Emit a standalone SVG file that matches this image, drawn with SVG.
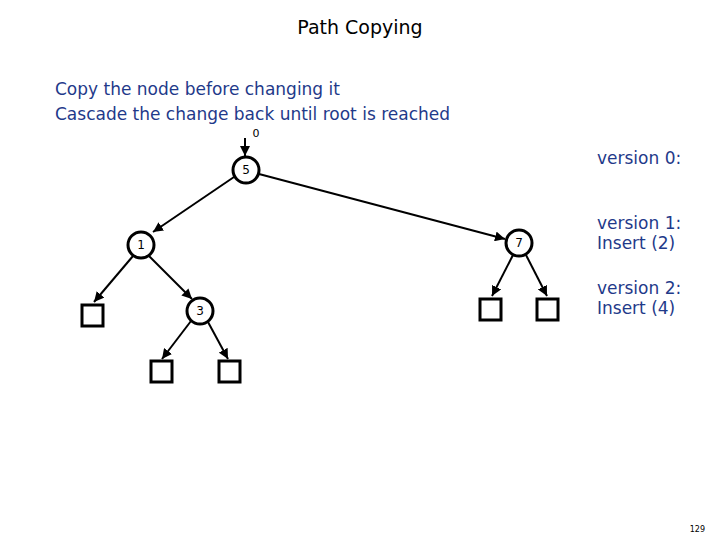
<svg xmlns="http://www.w3.org/2000/svg" width="720" height="540" viewBox="0 0 720 540">
<style>
text{font-family:"DejaVu Sans","Liberation Sans",sans-serif}
.n circle{fill:#fff;stroke:#000;stroke-width:3}
.n text{font-size:12px;text-anchor:middle}
.s{fill:#fff;stroke:#000;stroke-width:3}
.c line{stroke:#000;stroke-width:2;marker-end:url(#a)}
.b{fill:#1f3a8a;font-size:17px}
.v{fill:#1f3a8a;font-size:17px}
</style>
<defs><marker id="a" viewBox="0 0 10 10" refX="10" refY="5" markerWidth="5" markerHeight="5" orient="auto"><path d="M0,0L10,5L0,10z"/></marker></defs>
<rect width="720" height="540" fill="#fff"/>
<text x="360" y="34" text-anchor="middle" font-size="19">Path Copying</text>
<text class="b" x="55" y="95">Copy the node before changing it</text>
<text class="b" x="55" y="120">Cascade the change back until root is reached</text>
<text x="256" y="137" font-size="11" text-anchor="middle">0</text>
<text class="v" x="597" y="164">version 0:</text>
<text class="v" x="597" y="229">version 1:</text>
<text class="v" x="597" y="249">Insert (2)</text>
<text class="v" x="597" y="294">version 2:</text>
<text class="v" x="597" y="314">Insert (4)</text>
<text x="705" y="532" font-size="8" text-anchor="end">129</text>
<g class="c">
<line x1="245" y1="138" x2="245" y2="156"/>
<line x1="234" y1="177" x2="153" y2="232"/>
<line x1="259" y1="174" x2="505" y2="239"/>
<line x1="133" y1="256" x2="94" y2="302"/>
<line x1="149" y1="256" x2="192" y2="299"/>
<line x1="191" y1="321" x2="162" y2="359"/>
<line x1="208" y1="322" x2="228" y2="359"/>
<line x1="513" y1="255" x2="492" y2="296"/>
<line x1="526" y1="255" x2="547" y2="296"/>
</g>
<g id="n5" class="n"><circle cx="246" cy="170" r="13"/><text x="246" y="174">5</text></g>
<g id="n1" class="n"><circle cx="141" cy="245" r="13"/><text x="141" y="249">1</text></g>
<g id="n3" class="n"><circle cx="200" cy="311" r="13"/><text x="200" y="315">3</text></g>
<g id="n7" class="n"><circle cx="519" cy="243" r="13"/><text x="519" y="247">7</text></g>
<g id="l1"><rect class="s" x="82" y="305" width="21" height="21"/></g>
<g id="l2"><rect class="s" x="151" y="361" width="21" height="21"/></g>
<g id="l3"><rect class="s" x="219" y="361" width="21" height="21"/></g>
<g id="l4"><rect class="s" x="480" y="299" width="21" height="21"/></g>
<g id="l5"><rect class="s" x="537" y="299" width="21" height="21"/></g>
</svg>
